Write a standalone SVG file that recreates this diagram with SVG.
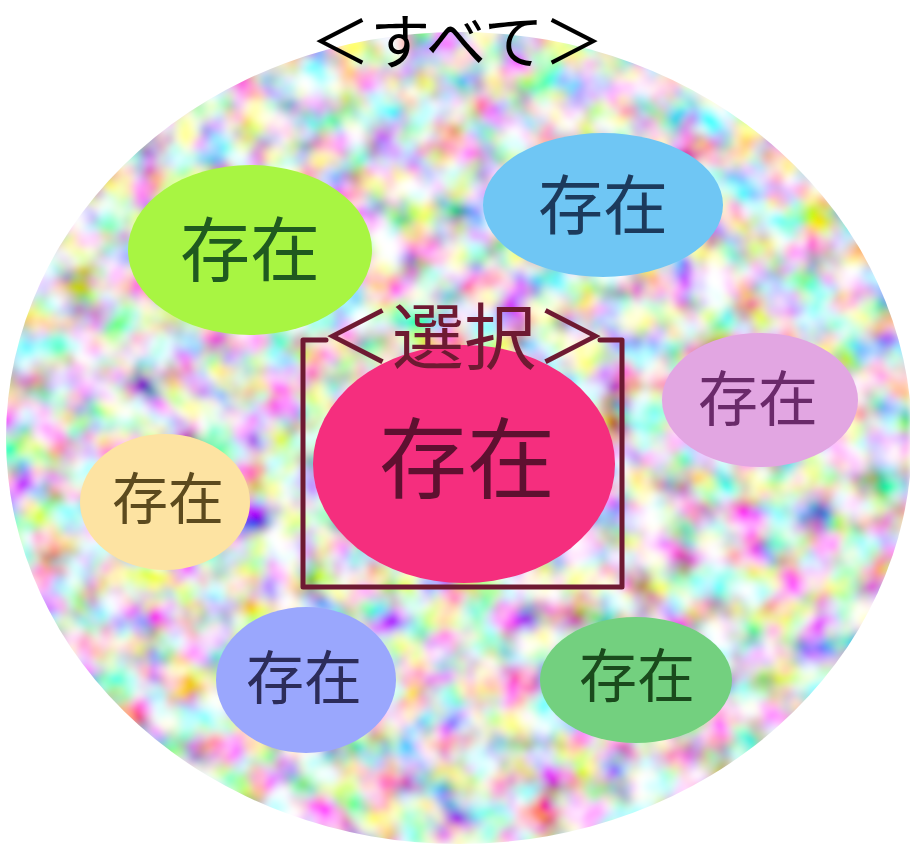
<svg xmlns="http://www.w3.org/2000/svg" width="910" height="846" viewBox="0 0 910 846">
<defs>
<style>
text{font-family:"Noto Sans CJK JP","Noto Sans CJK SC",sans-serif;text-anchor:middle;dominant-baseline:central}
.bracket{fill:none;stroke:#6e1a32;stroke-width:5;stroke-linejoin:round;stroke-linecap:round}
</style>
<filter id="confetti" filterUnits="userSpaceOnUse" x="0" y="0" width="910" height="846">
<feTurbulence type="fractalNoise" baseFrequency="0.03" numOctaves="3" seed="7" result="n"/>
<feColorMatrix in="n" type="matrix" values="2.1 0 0 0 -0.33  0 2.1 0 0 -0.33  0 0 2.1 0 -0.33  0 0 0 0 1"/>
<feGaussianBlur stdDeviation="3"/>
</filter>
<clipPath id="world"><ellipse cx="459" cy="438" rx="453" ry="406"/></clipPath>
</defs>
<rect width="910" height="846" fill="#ffffff"/>
<g id="all">
<g clip-path="url(#world)"><rect x="0" y="0" width="910" height="846" filter="url(#confetti)"/></g>
<text x="457" y="37" font-size="60" fill="#000">＜すべて＞</text>
</g>
<g id="node-lime"><ellipse cx="250" cy="250" rx="122" ry="85" fill="#a8f542"/><text x="250" y="245" font-size="70" fill="#1f5a1f">存在</text></g>
<g id="node-blue"><ellipse cx="603" cy="205" rx="120" ry="72" fill="#6fc6f4"/><text x="603" y="201" font-size="65" fill="#1c3a5c">存在</text></g>
<g id="node-orchid"><ellipse cx="760" cy="400" rx="98" ry="67" fill="#e2a6e2"/><text x="758" y="394" font-size="60" fill="#6a2a6a">存在</text></g>
<g id="node-yellow"><ellipse cx="165" cy="502" rx="85" ry="68" fill="#fde3a2"/><text x="168" y="494" font-size="56" fill="#5c4a1e">存在</text></g>
<g id="node-periwinkle"><ellipse cx="306" cy="680" rx="90" ry="73" fill="#9aa7fd"/><text x="304" y="674" font-size="58" fill="#2c2c5a">存在</text></g>
<g id="node-green"><ellipse cx="636" cy="680" rx="96" ry="63" fill="#73d07f"/><text x="637" y="672" font-size="58" fill="#1a4a1c">存在</text></g>
<g id="node-selected">
<ellipse cx="464" cy="464" rx="151" ry="119" fill="#f52e7e"/>
<text x="467" y="452" font-size="88" fill="#5e1030">存在</text>
<path class="bracket" d="M326 340 H303 V587 H622 V340 H600"/>
<text x="464" y="331" font-size="72" fill="#6e1a32">＜選択＞</text>
</g>
<g id="connectors"></g>
</svg>
